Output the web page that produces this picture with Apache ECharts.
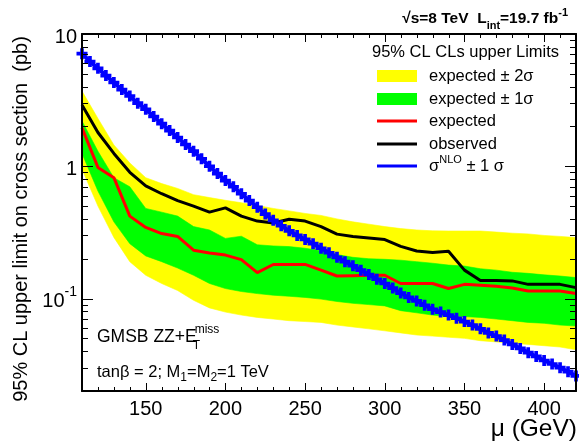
<!DOCTYPE html>
<html>
<head>
<meta charset="utf-8">
<script src="https://cdn.jsdelivr.net/npm/echarts@6/dist/echarts.min.js"></script>
<style>
  html, body { margin: 0; padding: 0; background: #fff; }
  #chart { width: 579px; height: 444px; }
</style>
</head>
<body>
<div id="chart"></div>
<script>
// Higgsino mass points (GeV) of the limit scan
const massPoints = [110, 120, 130, 140, 150, 160, 170, 180, 190, 200,
                    210, 220, 230, 240, 250, 260, 270, 280, 290, 300,
                    310, 320, 330, 340, 350, 360, 370, 380, 390, 400,
                    410, 420];
// 95% CL upper limits on the cross section (pb)
const observed = [2.9, 1.8, 1.25, 0.9, 0.71, 0.62, 0.55, 0.5, 0.45, 0.485,
                  0.42, 0.385, 0.373, 0.398, 0.385, 0.35, 0.307, 0.295, 0.287, 0.279,
                  0.248, 0.229, 0.223, 0.228, 0.164, 0.137, 0.137, 0.136, 0.128, 0.128,
                  0.128, 0.121];
const expected = [1.95, 0.98, 0.82, 0.42, 0.345, 0.31, 0.295, 0.232, 0.221, 0.213,
                  0.197, 0.157, 0.181, 0.181, 0.181, 0.164, 0.148, 0.149, 0.150, 0.150,
                  0.13, 0.13, 0.13, 0.119, 0.128, 0.126, 0.124, 0.12, 0.114, 0.114,
                  0.114, 0.109];
const oneSigmaUp = [2.2, 1.3, 0.82, 0.70, 0.48, 0.45, 0.42, 0.35, 0.33, 0.285,
                    0.296, 0.255, 0.25, 0.247, 0.24, 0.23, 0.215, 0.205, 0.2, 0.198,
                    0.195, 0.19, 0.185, 0.179, 0.176, 0.168, 0.164, 0.158, 0.155, 0.151,
                    0.148, 0.144];
const oneSigmaDown = [1.25, 0.65, 0.38, 0.26, 0.21, 0.19, 0.17, 0.15, 0.13, 0.119,
                      0.113, 0.109, 0.106, 0.104, 0.102, 0.099, 0.095, 0.092, 0.09, 0.088,
                      0.081, 0.078, 0.075, 0.073, 0.073, 0.072, 0.07, 0.068, 0.066, 0.065,
                      0.063, 0.062];
const twoSigmaUp = [3.7, 2.3, 1.45, 1.06, 0.82, 0.74, 0.68, 0.61, 0.58, 0.553,
                    0.53, 0.505, 0.48, 0.46, 0.44, 0.425, 0.4, 0.38, 0.365, 0.35,
                    0.338, 0.33, 0.325, 0.324, 0.324, 0.324, 0.318, 0.312, 0.308, 0.3,
                    0.295, 0.289];
const twoSigmaDown = [0.95, 0.5, 0.29, 0.19, 0.15, 0.13, 0.115, 0.097, 0.085, 0.079,
                      0.075, 0.072, 0.07, 0.068, 0.067, 0.066, 0.063, 0.061, 0.059, 0.057,
                      0.055, 0.053, 0.052, 0.051, 0.05, 0.048, 0.047, 0.046, 0.045, 0.044,
                      0.043, 0.041];
// NLO signal cross section (pb)
const nloMass = [110, 115, 120, 125, 130, 135, 140, 145, 150, 155,
                 160, 165, 170, 175, 180, 185, 190, 195, 200, 205,
                 210, 215, 220, 225, 230, 235, 240, 245, 250, 255,
                 260, 265, 270, 275, 280, 285, 290, 295, 300, 305,
                 310, 315, 320, 325, 330, 335, 340, 345, 350, 355,
                 360, 365, 370, 375, 380, 385, 390, 395, 400, 405,
                 410, 415, 420];
const nloXsec = [7.1, 6.2, 5.5, 4.85, 4.3, 3.8, 3.4, 3.0, 2.7, 2.38,
                 2.1, 1.86, 1.65, 1.46, 1.3, 1.14, 1.0, 0.88, 0.78, 0.7,
                 0.62, 0.55, 0.49, 0.435, 0.39, 0.355, 0.325, 0.3, 0.28, 0.26,
                 0.24, 0.222, 0.205, 0.19, 0.177, 0.164, 0.152, 0.14, 0.13, 0.12,
                 0.11, 0.102, 0.096, 0.089, 0.083, 0.079, 0.075, 0.071, 0.067, 0.063,
                 0.059, 0.055, 0.052, 0.0485, 0.045, 0.042, 0.039, 0.0365, 0.034, 0.032,
                 0.030, 0.028, 0.026];
// axis ranges and tick positions
const xRange = [110, 420];
const yRange = [0.02, 10];
const xTickValues = [110, 120, 130, 140, 150, 160, 170, 180, 190, 200,
                     210, 220, 230, 240, 250, 260, 270, 280, 290, 300,
                     310, 320, 330, 340, 350, 360, 370, 380, 390, 400,
                     410, 420];
const yTickValues = [0.02, 0.03, 0.04, 0.05, 0.06, 0.07, 0.08, 0.09,
                     0.1, 0.2, 0.3, 0.4, 0.5, 0.6, 0.7, 0.8, 0.9,
                     1, 2, 3, 4, 5, 6, 7, 8, 9, 10];

const FONT = '"Liberation Sans", Arial, Helvetica, sans-serif';
const YELLOW = '#ffff00', GREEN = '#00ff00', RED = '#ff0000', BLUE = '#0000ff';

const chart = echarts.init(document.getElementById('chart'), null, { renderer: 'canvas' });

// text width helper for placing stacked super/subscripts
const measureCtx = document.createElement('canvas').getContext('2d');
function textWidth(str, font) {
  measureCtx.font = font;
  return measureCtx.measureText(str).width;
}

function isDecade(v) {
  const e = Math.log10(v);
  return Math.abs(e - Math.round(e)) < 1e-6;
}

// filled band between an upper and a lower curve
function band(name, up, down, color, z) {
  return {
    type: 'custom', name: name, z: z, silent: true,
    data: [[massPoints[0], up[0]]],
    renderItem: function (params, api) {
      const pts = [];
      for (let i = 0; i < massPoints.length; i++) pts.push(api.coord([massPoints[i], up[i]]));
      for (let i = massPoints.length - 1; i >= 0; i--) pts.push(api.coord([massPoints[i], down[i]]));
      return { type: 'polygon', shape: { points: pts }, style: { fill: color, stroke: color, lineWidth: 0.6 } };
    }
  };
}

// inward ticks on all four sides of the frame
const tickData = yTickValues.map(v => [0, v]).concat(xTickValues.map(v => [1, v]));
const tickSeries = {
  type: 'custom', name: 'ticks', z: 20, silent: true,
  data: tickData,
  renderItem: function (params, api) {
    const kind = api.value(0), v = api.value(1);
    const st = { stroke: '#000', lineWidth: 1 };
    if (kind === 0) {
      const len = isDecade(v) ? 11 : 6;
      const l = api.coord([xRange[0], v]), r = api.coord([xRange[1], v]);
      const y = Math.round(l[1]) + 0.5;
      return { type: 'group', children: [
        { type: 'line', shape: { x1: l[0], y1: y, x2: l[0] + len, y2: y }, style: st },
        { type: 'line', shape: { x1: r[0], y1: y, x2: r[0] - len, y2: y }, style: st }
      ] };
    }
    const len = (v % 50 === 0) ? 8 : 4;
    const b = api.coord([v, yRange[0]]), t = api.coord([v, yRange[1]]);
    const x = Math.round(b[0]) + 0.5;
    return { type: 'group', children: [
      { type: 'line', shape: { x1: x, y1: b[1], x2: x, y2: b[1] - len }, style: st },
      { type: 'line', shape: { x1: x, y1: t[1], x2: x, y2: t[1] + len }, style: st }
    ] };
  }
};

// thick "+" marker of the NLO curve
const plusSymbol = 'path://M3,0h3v3h3v3h-3v3h-3v-3h-3v-3h3z';

const frameLine = { show: true, lineStyle: { color: '#000', width: 2 } };

const legendX = 377, legendTextX = 429;
const legendRows = [76, 99, 121, 144, 166];
const LEG_FONT = '16.5px ' + FONT;
const NOTE_FONT = '17.5px ' + FONT;
const eX = 97 + textWidth('GMSB ZZ+E', NOTE_FONT);

const option = {
  animation: false,
  backgroundColor: '#fff',
  grid: { left: 82, right: 0, top: 34, bottom: 53, containLabel: false },
  xAxis: [
    {
      type: 'value', min: xRange[0], max: xRange[1], interval: 10, z: 10,
      axisLine: frameLine, axisTick: { show: false }, splitLine: { show: false },
      axisLabel: {
        margin: 8, color: '#000', fontFamily: FONT, fontSize: 20,
        formatter: v => (v % 50 === 0 ? String(v) : '')
      }
    },
    {
      type: 'value', position: 'top', min: xRange[0], max: xRange[1], interval: 10, z: 10,
      axisLine: frameLine, axisTick: { show: false }, splitLine: { show: false }, axisLabel: { show: false }
    }
  ],
  yAxis: [
    {
      type: 'log', logBase: 10, min: yRange[0], max: yRange[1], z: 10,
      axisLine: frameLine, axisTick: { show: false }, splitLine: { show: false },
      axisLabel: {
        margin: 5, color: '#000', fontFamily: FONT, fontSize: 20,
        formatter: function (v) {
          if (!isDecade(v)) return '';
          const e = Math.round(Math.log10(v));
          if (e === 1) return '{n|10}';
          if (e === 0) return '{n|1}';
          return '{n|10}{e|' + e + '}';
        },
        rich: {
          n: { fontFamily: FONT, fontSize: 20, color: '#000', lineHeight: 26, verticalAlign: 'bottom' },
          e: { fontFamily: FONT, fontSize: 14, color: '#000', lineHeight: 26, verticalAlign: 'top' }
        }
      }
    },
    {
      type: 'log', logBase: 10, position: 'right', min: yRange[0], max: yRange[1], z: 10,
      axisLine: frameLine, axisTick: { show: false }, splitLine: { show: false }, axisLabel: { show: false }
    }
  ],
  series: [
    band('expected ± 2σ', twoSigmaUp, twoSigmaDown, YELLOW, 1),
    band('expected ± 1σ', oneSigmaUp, oneSigmaDown, GREEN, 2),
    {
      type: 'line', name: 'expected', z: 4, silent: true,
      data: massPoints.map((m, i) => [m, expected[i]]),
      showSymbol: false, lineStyle: { color: RED, width: 3 }
    },
    {
      type: 'line', name: 'observed', z: 5, silent: true,
      data: massPoints.map((m, i) => [m, observed[i]]),
      showSymbol: false, lineStyle: { color: '#000', width: 3 }
    },
    {
      type: 'line', name: 'NLO', z: 6, silent: true,
      data: nloMass.map((m, i) => [m, nloXsec[i]]),
      symbol: plusSymbol, symbolSize: 11, showSymbol: true,
      itemStyle: { color: BLUE }, lineStyle: { color: BLUE, width: 4 }
    },
    tickSeries
  ],
  graphic: [
    // y axis title
    {
      type: 'text', x: 21, y: 219, rotation: Math.PI / 2, z: 50,
      style: {
        text: '95% CL upper limit on cross section  (pb)', fill: '#000',
        font: '20px ' + FONT, align: 'center', verticalAlign: 'middle'
      }
    },
    // x axis title
    {
      type: 'text', x: 577, y: 429, z: 50,
      style: { text: 'μ (GeV)', fill: '#000', font: '24.5px ' + FONT, align: 'right', verticalAlign: 'middle' }
    },
    // energy and luminosity
    {
      type: 'text', x: 568, y: 19, z: 50,
      style: {
        text: '{b|√s=8 TeV  L}{sub|int}{b|=19.7 fb}{sup|-1}',
        align: 'right', verticalAlign: 'middle',
        rich: {
          b: { font: 'bold 15.5px ' + FONT, fill: '#000', lineHeight: 24, verticalAlign: 'middle' },
          sub: { font: 'bold 11px ' + FONT, fill: '#000', lineHeight: 24, verticalAlign: 'bottom' },
          sup: { font: 'bold 11px ' + FONT, fill: '#000', lineHeight: 24, verticalAlign: 'top' }
        }
      }
    },
    // legend
    {
      type: 'text', x: 372, y: 52, z: 50,
      style: { text: '95% CL CLs upper Limits', fill: '#000', font: LEG_FONT, verticalAlign: 'middle' }
    },
    { type: 'rect', z: 50, shape: { x: legendX, y: legendRows[0] - 6, width: 40, height: 12 }, style: { fill: YELLOW } },
    { type: 'rect', z: 50, shape: { x: legendX, y: legendRows[1] - 6, width: 40, height: 12 }, style: { fill: GREEN } },
    { type: 'line', z: 50, shape: { x1: legendX, y1: legendRows[2], x2: legendX + 40, y2: legendRows[2] }, style: { stroke: RED, lineWidth: 3 } },
    { type: 'line', z: 50, shape: { x1: legendX, y1: legendRows[3], x2: legendX + 40, y2: legendRows[3] }, style: { stroke: '#000', lineWidth: 3 } },
    { type: 'line', z: 50, shape: { x1: legendX, y1: legendRows[4], x2: legendX + 40, y2: legendRows[4] }, style: { stroke: BLUE, lineWidth: 3 } },
    { type: 'text', x: legendTextX, y: legendRows[0], z: 50, style: { text: 'expected ± 2σ', fill: '#000', font: LEG_FONT, verticalAlign: 'middle' } },
    { type: 'text', x: legendTextX, y: legendRows[1], z: 50, style: { text: 'expected ± 1σ', fill: '#000', font: LEG_FONT, verticalAlign: 'middle' } },
    { type: 'text', x: legendTextX, y: legendRows[2], z: 50, style: { text: 'expected', fill: '#000', font: LEG_FONT, verticalAlign: 'middle' } },
    { type: 'text', x: legendTextX, y: legendRows[3], z: 50, style: { text: 'observed', fill: '#000', font: LEG_FONT, verticalAlign: 'middle' } },
    {
      type: 'text', x: legendTextX, y: legendRows[4], z: 50,
      style: {
        text: '{m|σ}{sup|NLO}{m| ± 1 σ}', verticalAlign: 'middle',
        rich: {
          m: { font: LEG_FONT, fill: '#000', lineHeight: 24, verticalAlign: 'middle' },
          sup: { font: '11px ' + FONT, fill: '#000', lineHeight: 24, verticalAlign: 'top' }
        }
      }
    },
    // model description
    {
      type: 'text', x: 97, y: 337, z: 50,
      style: { text: 'GMSB ZZ+E', fill: '#000', font: NOTE_FONT, verticalAlign: 'middle' }
    },
    {
      type: 'text', x: eX - 2, y: 330, z: 50,
      style: { text: 'miss', fill: '#000', font: '12px ' + FONT, verticalAlign: 'middle' }
    },
    {
      type: 'text', x: eX - 4, y: 346, z: 50,
      style: { text: 'T', fill: '#000', font: '12px ' + FONT, verticalAlign: 'middle' }
    },
    {
      type: 'text', x: 97, y: 372, z: 50,
      style: {
        text: '{m|tanβ = 2; M}{sub|1}{m|=M}{sub|2}{m|=1 TeV}', verticalAlign: 'middle',
        rich: {
          m: { font: '16.5px ' + FONT, fill: '#000', lineHeight: 24, verticalAlign: 'middle' },
          sub: { font: '12px ' + FONT, fill: '#000', lineHeight: 24, verticalAlign: 'bottom' }
        }
      }
    }
  ]
};

chart.setOption(option);
</script>
</body>
</html>
